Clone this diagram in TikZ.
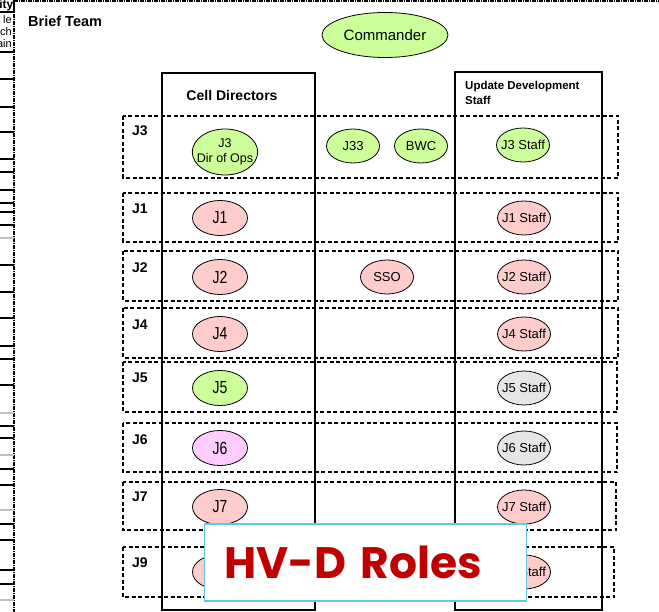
\documentclass[tikz,border=0pt]{standalone}
\usepackage{fontspec}
\setmainfont{Liberation Sans}
\newfontfamily\narrowsf[FakeStretch=0.8]{Liberation Sans}
\newfontfamily\titlesf{Poppins}
\usetikzlibrary{shapes.geometric,positioning}
\definecolor{rolegreen}{HTML}{CCFF99}
\definecolor{rolepink}{HTML}{FFCCCC}
\definecolor{roleviolet}{HTML}{FFCCFF}
\definecolor{rolegrey}{HTML}{E6E6E6}
\definecolor{hvred}{HTML}{C00000}
\definecolor{hvblue}{HTML}{66C6EC}

\begin{document}
\begin{tikzpicture}[x=1pt,y=-1pt,on grid,
    role/.style={ellipse,draw,line width=0.8pt,inner xsep=-4pt,inner ysep=-2pt,
        minimum width=55pt,minimum height=35pt,font=\narrowsf\fontsize{17.5}{17.5}\selectfont},
    staff/.style={ellipse,draw,line width=0.8pt,inner xsep=-4pt,inner ysep=-2pt,
        minimum width=53pt,minimum height=34pt,font=\fontsize{13}{13}\selectfont},
    rowbox/.style={draw,line width=1.8pt,dash pattern=on 4pt off 2.5pt},
    rowlabel/.style={anchor=west,inner sep=0pt,font=\bfseries\fontsize{14}{14}\selectfont},
    colbox/.style={draw,line width=1.1pt},
    frame/.style={line width=1.5pt,dash pattern=on 4pt off 1pt on 1pt off 1pt}]
    \useasboundingbox (0,0) rectangle (659,612);

    % cut-off frame on the left
    \draw[frame] (14,0) -- (14,612);
    \draw[frame] (14,1) -- (659,1);
    \draw[line width=1.2pt] (14,0) -- (14,12) -- (0,12);
    \draw[line width=1.2pt] (0,52) -- (14,52);
    \node[anchor=east,inner sep=0pt,font=\bfseries\fontsize{12}{12}\selectfont] (ity) at (13.5,5) {ity};
    \node[anchor=east,inner sep=0pt,font=\fontsize{11}{11}\selectfont] (le) at (12,20) {le};
    \node[anchor=east,inner sep=0pt,font=\fontsize{11}{11}\selectfont] (ch) at (12,32) {ch};
    \node[anchor=east,inner sep=0pt,font=\fontsize{11}{11}\selectfont] (ain) at (12,44) {ain};
    \draw[line width=1.2pt]
        (0,79) -- (14,79) (0,107) -- (14,107) (0,132) -- (14,132)
        (0,159) -- (14,159) (0,172) -- (14,172) (0,190) -- (14,190)
        (0,203) -- (14,203) (0,212) -- (14,212) (0,225) -- (14,225)
        (0,265) -- (14,265) (0,292) -- (14,292) (0,318) -- (14,318)
        (0,346) -- (14,346) (0,359) -- (14,359) (0,385) -- (14,385)
        (0,426) -- (14,426) (0,438) -- (14,438) (0,469) -- (14,469)
        (0,485) -- (14,485) (0,524) -- (14,524) (0,540) -- (14,540)
        (0,570) -- (14,570) (0,584) -- (14,584);
    \draw[line width=1.2pt,black!25]
        (0,238) -- (14,238) (0,413) -- (14,413) (0,455) -- (14,455)
        (0,510) -- (14,510) (0,600) -- (14,600);

    % top
    \node[anchor=west,inner sep=0pt,font=\bfseries\fontsize{14.5}{14.5}\selectfont] (brief) at (28,21) {Brief Team};
    \node[ellipse,draw,line width=0.8pt,fill=rolegreen,inner sep=0pt,minimum width=126pt,minimum height=45pt,
        font=\fontsize{15}{15}\selectfont] (cmd) at (385,35) {Commander};

    % columns
    \draw[colbox] (162,73) rectangle (315,610);
    \draw[colbox] (455,72) rectangle (602,610);
    \node[font=\bfseries\fontsize{14}{14}\selectfont] (celldir) at (232,95) {Cell Directors};
    \node[anchor=north west,align=left,inner sep=0pt,font=\bfseries\fontsize{11.5}{15}\selectfont] (uds) at (465,81)
        {Update Development\\Staff};

    % rows
    \draw[rowbox] (123,116) rectangle (618,178);
    \draw[rowbox] (123,193) rectangle (618,242);
    \draw[rowbox] (123,251) rectangle (618,301);
    \draw[rowbox] (123,308) rectangle (618,358);
    \draw[rowbox] (123,362) rectangle (617,412);
    \draw[rowbox] (123,423) rectangle (617,472);
    \draw[rowbox] (123,482) rectangle (616,530);
    \draw[rowbox] (123,547) rectangle (614,597);
    \node[rowlabel] (lj3) at (132,131) {J3};
    \node[rowlabel] (lj1) at (132,209) {J1};
    \node[rowlabel] (lj2) at (132,268) {J2};
    \node[rowlabel] (lj4) at (132,325) {J4};
    \node[rowlabel] (lj5) at (132,378) {J5};
    \node[rowlabel] (lj6) at (132,440) {J6};
    \node[rowlabel] (lj7) at (132,497) {J7};
    \node[rowlabel] (lj9) at (132,563) {J9};

    % J3 row
    \node[role,fill=rolegreen,inner sep=-5pt,minimum width=64pt,minimum height=46pt,align=center,
        font=\fontsize{12.5}{15}\selectfont] (j3) at (225,152) {J3\\Dir of Ops};
    \node[staff,fill=rolegreen] (j33) at (353,146) {J33};
    \node[staff,fill=rolegreen] (bwc) [right=68pt of j33] {BWC};
    \node[staff,fill=rolegreen] (j3staff) at (523,145) {J3 Staff};

    % directors and staff
    \node[role,fill=rolepink] (j1) at (220,218) {J1};
    \node[staff,fill=rolepink] (j1staff) [right=304pt of j1] {J1 Staff};
    \node[role,fill=rolepink] (j2) at (220,277) {J2};
    \node[staff,fill=rolepink] (sso) [right=167pt of j2] {SSO};
    \node[staff,fill=rolepink] (j2staff) [right=304pt of j2] {J2 Staff};
    \node[role,fill=rolepink] (j4) at (220,334) {J4};
    \node[staff,fill=rolepink] (j4staff) [right=304pt of j4] {J4 Staff};
    \node[role,fill=rolegreen] (j5) at (220,388) {J5};
    \node[staff,fill=rolegrey] (j5staff) [right=304pt of j5] {J5 Staff};
    \node[role,fill=roleviolet] (j6) at (220,448) {J6};
    \node[staff,fill=rolegrey] (j6staff) [right=304pt of j6] {J6 Staff};
    \node[role,fill=rolepink] (j7) at (220,507) {J7};
    \node[staff,fill=rolepink] (j7staff) [right=304pt of j7] {J7 Staff};
    \node[role,fill=rolepink] (j9) at (220,572) {J9};
    \node[staff,fill=rolepink] (j9staff) [right=304pt of j9] {J9 Staff};

    % title box
    \node[draw=hvblue,line width=1.6pt,fill=white,minimum width=321pt,minimum height=77pt,
        text width=282pt,inner xsep=20pt,align=left,text=hvred,
        font=\titlesf\bfseries\fontsize{44}{44}\selectfont] (hvd) at (365.5,562.5) {HV-D Roles};
\end{tikzpicture}
\end{document}
